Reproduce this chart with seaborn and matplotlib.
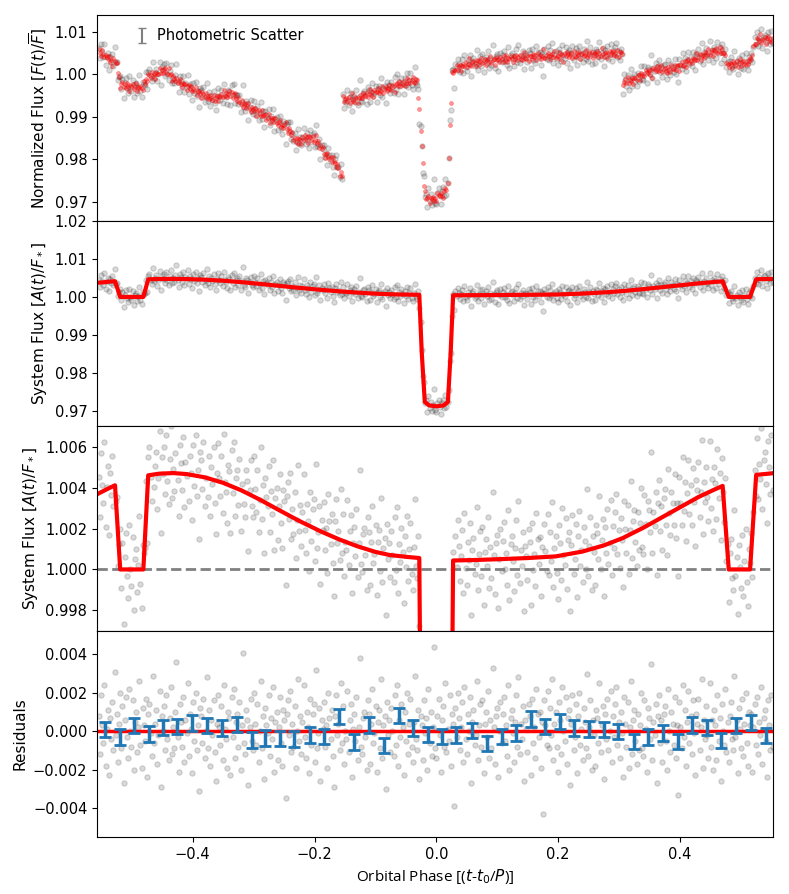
#!/usr/bin/env python3

import numpy as np
from matplotlib import pyplot as plt
import seaborn as sns

model_phase = [-0.555, -0.540, -0.5275, -0.519, -0.481, -0.473, -0.455, -0.432,
               -0.410, -0.380, -0.350, -0.320, -0.290, -0.260, -0.225, -0.190,
               -0.160, -0.130, -0.100, -0.077, -0.050, -0.028, -0.024, -0.019,
               -0.012, 0.000, 0.012, 0.019, 0.0235, 0.0275, 0.060, 0.100,
               0.150, 0.196, 0.240, 0.275, 0.306, 0.340, 0.370, 0.400,
               0.430, 0.455, 0.470, 0.480, 0.515, 0.525, 0.555]
model_flux = [1.00372, 1.00395, 1.00413, 1.00000, 1.00000, 1.00462, 1.00470, 1.00473,
              1.00468, 1.00452, 1.00425, 1.00388, 1.00343, 1.00294, 1.00238, 1.00187,
              1.00148, 1.00114, 1.00086, 1.00071, 1.00062, 1.00056, 0.98550, 0.97250,
              0.97160, 0.97135, 0.97160, 0.97250, 0.98550, 1.00044, 1.00046, 1.00050,
              1.00056, 1.00064, 1.00088, 1.00118, 1.00154, 1.00205, 1.00255, 1.00305,
              1.00355, 1.00390, 1.00410, 1.00000, 1.00000, 1.00464, 1.00473]

raw_phase = [-0.555, -0.545, -0.536, -0.526, -0.519, -0.500, -0.482, -0.474,
             -0.460, -0.449, -0.440, -0.432, -0.410, -0.388, -0.367, -0.350,
             -0.334, -0.323, -0.305, -0.290, -0.262, -0.241, -0.230, -0.213,
             -0.197, -0.181, -0.164, -0.1552, -0.1545, -0.135, -0.115, -0.090,
             -0.061, -0.045, -0.031, -0.019, -0.005, 0.012, 0.018, 0.026,
             0.040, 0.059, 0.100, 0.141, 0.180, 0.223, 0.260, 0.3048,
             0.3055, 0.320, 0.340, 0.361, 0.382, 0.400, 0.415, 0.442,
             0.469, 0.478, 0.500, 0.515, 0.524, 0.555]
raw_flux = [1.0055, 1.0045, 1.0034, 1.0030, 0.9975, 0.9970, 0.9968, 0.9995,
            1.0000, 1.0010, 1.0005, 0.9990, 0.9972, 0.9955, 0.9942, 0.9950,
            0.9955, 0.9935, 0.9920, 0.9908, 0.9888, 0.9868, 0.9840, 0.9852,
            0.9845, 0.9810, 0.9790, 0.9755, 0.9940, 0.9940, 0.9952, 0.9962,
            0.9975, 0.9983, 0.9985, 0.9712, 0.9705, 0.9722, 0.9730, 1.0008,
            1.0018, 1.0026, 1.0034, 1.0040, 1.0043, 1.0045, 1.0047, 1.0049,
            0.9980, 0.9985, 1.0000, 1.0012, 1.0010, 1.0020, 1.0030, 1.0048,
            1.0057, 1.0023, 1.0025, 1.0030, 1.0080, 1.0082]

# Residuals of the individual exposures [ppt], estimated from panel 4.
resid_ppt = [
    0.8, -1.2, 1.9, 0.3, -0.6, 2.4, -1.8, 0.1, 1.1, -2.3, 0.7, -0.4, 1.5, -1.0, 3.1, -0.2, 0.9, -1.6, 0.4, 2.0,
    -0.9, 1.3, -2.7, 0.6, 1.8, -0.3, -1.4, 2.2, 0.0, -0.8, 1.6, -2.0, 0.5, 1.0, -1.1, 0.2, 2.6, -0.7, -1.9, 1.2,
    0.3, -0.5, 1.7, -2.4, 0.9, 1.4, -0.1, -1.3, 2.9, -0.6, 0.4, 1.1, -1.7, -0.2, 2.1, -2.9, 0.8, 0.0, 1.3, -1.0,
    1.9, -0.4, -1.5, 0.7, 2.3, -1.2, 0.2, -0.9, 1.0, 3.6, -0.3, -2.1, 1.4, 0.5, -0.8, 1.8, -1.6, 0.6, -0.1, 2.5,
    -1.3, 0.9, 0.1, -2.2, 1.5, -0.5, 2.0, -1.0, 0.3, -3.1, 1.2, 0.8, -0.6, 1.7, -1.4, 0.0, 2.8, -0.9, 1.1, -1.8,
    0.6, -0.2, 1.6, -1.1, -2.6, 0.4, 1.9, 0.2, -0.7, 1.3, -1.5, 2.4, 0.1, -0.4, -1.9, 1.0, 0.7, -2.3, 1.8, -0.3,
    2.2, -1.4, 0.5, 0.9, -0.8, 1.5, -2.0, 0.3, 4.1, -0.6, -1.2, 1.1, 0.6, -2.8, 0.2, 1.7, -0.5, -1.0, 2.0, 0.4,
    -0.7, 1.4, -1.6, 0.0, 2.6, -0.9, 0.8, -2.5, 1.2, 0.3, -0.1, 1.9, -1.3, 0.7, -0.4, 2.3, -2.1, 0.5, 1.0, -1.5,
    0.2, 1.8, -0.6, -1.8, 1.1, 0.6, -3.5, 0.9, 1.6, -0.2, 2.1, -1.1, 0.4, -0.8, 1.3, -1.9, 0.0, 2.7, -0.5, 0.8,
    -1.2, 0.5, 2.4, -0.3, -1.4, 1.0, 0.2, -2.2, 1.7, -0.7, 0.9, 1.4, -1.6, 3.2, -0.9, -0.1, 1.2, -2.6, 0.6, 0.1,
    1.5, -0.8, 0.3, -1.9, 2.0, 0.7, -0.4, 1.1, -1.3, -2.9, 0.8, 1.9, -0.2, 0.4, -1.0, 2.5, -0.6, 1.3, -1.7, 0.0,
    -0.4, 2.1, -1.1, 0.6, 1.4, -2.4, 0.1, 0.9, -0.5, 1.8, -1.5, 0.2, 3.8, -0.8, -1.2, 0.7, 1.0, -0.3, -2.0, 1.6,
    0.9, -1.7, 0.4, 2.2, -0.6, -0.1, 1.3, -2.1, 0.5, 1.1, -0.9, 2.7, -1.4, 0.3, 0.8, -3.0, 1.5, -0.2, 0.6, -1.1,
    1.2, 0.0, -1.3, 1.9, -0.7, 2.4, -1.8, 0.6, -0.3, 1.4, 0.2, -2.3, 1.0, -0.5, 2.0, -1.2, 0.4, 1.7, -0.8, -1.6,
    0.5, 2.9, -0.4, -1.0, 1.1, -2.5, 0.8, 0.3, -1.5, 1.6, -0.1, 0.7, -2.0, 2.2, -0.6, 1.0, -1.3, 0.2, 4.4, -0.9,
    -1.4, 0.8, 1.7, -0.2, -2.1, 0.6, 1.3, -0.8, 2.5, -1.1, 0.1, -0.5, 1.9, -1.8, 0.9, 0.4, -3.9, 1.2, -0.3, 2.0,
    0.7, -1.0, 0.2, 1.5, -1.6, 2.3, -0.4, -1.2, 0.9, 0.0, 1.8, -2.7, 0.5, 1.1, -0.7, -0.2, 2.6, -1.5, 0.3, 1.4,
    -0.8, 1.6, -2.2, 0.4, 1.0, -0.3, 2.1, -1.4, 0.6, -0.9, 3.3, 0.2, -1.7, 0.8, 1.2, -2.4, 0.0, 1.5, -0.6, 0.9,
    1.8, -0.5, 0.3, -1.3, 2.4, -2.0, 0.7, 1.1, -0.1, -1.6, 0.5, 1.9, -0.8, 2.8, -1.2, 0.4, -0.4, 1.3, -2.6, 0.6,
    0.1, -1.1, 1.4, 0.8, -2.3, 1.7, -0.6, 0.2, -1.4, 2.2, 0.9, -0.3, 1.0, -1.9, 0.5, -4.3, 1.6, 0.3, -0.7, 2.1,
    -0.9, 1.2, -0.2, 2.7, -1.5, 0.4, 1.0, -0.8, -2.1, 1.5, 0.6, -1.2, 2.3, 0.0, -0.5, 1.8, -1.7, 0.7, 1.1, -2.8,
    0.4, 1.9, -1.0, -0.3, 1.4, -2.2, 0.8, 2.0, -0.7, 0.1, -1.5, 1.2, 0.5, -0.9, 3.0, -1.3, 0.2, 1.6, -2.0, 0.6,
    -0.2, -1.8, 1.1, 0.7, -0.6, 2.5, -1.1, 0.3, 1.3, -2.5, 0.9, -0.4, 1.7, -1.0, 0.0, 2.1, -1.6, 0.8, -0.3, 1.4,
    2.3, -0.7, 0.5, -1.4, 1.0, -0.1, -2.4, 1.8, 0.4, -0.8, 1.5, -1.9, 0.2, 2.6, -1.2, 0.6, 1.1, -0.5, -1.7, 0.9,
    -1.0, 0.3, 2.0, -0.9, -1.3, 1.6, 0.1, -2.1, 1.2, 0.7, -0.4, 3.5, -1.5, 0.5, -0.2, 1.4, -2.7, 0.8, 1.9, -0.6,
    0.6, -1.6, 0.9, 1.3, -0.5, -2.0, 2.2, 0.0, -1.1, 1.0, 0.4, -0.7, 1.8, -1.4, 0.3, -3.3, 1.5, 0.2, -0.9, 2.4,
    -0.3, 1.1, -1.8, 0.5, 2.1, -0.6, 0.8, -1.2, 1.6, -0.1, -2.3, 0.9, 0.4, 1.7, -1.0, 0.2, 2.7, -1.9, 0.6, -0.4,
    1.3, -0.2, -1.4, 2.5, -0.8, 0.6, -2.0, 1.1, 0.3, -1.5, 1.9, -0.5, 0.7, -2.6, 1.4, 0.0, -0.7, 2.2, -1.1, 0.5,
    -1.6, 0.8, 1.5, -0.4, -1.0, 2.9, -0.3, 0.6, -2.2, 1.2, 0.1, -0.9, 1.7, -1.3, 0.4, 2.0, -0.6, -1.8, 1.0, 0.3,
    0.9, -2.1, 0.2, 1.4, -0.7, 1.8, -1.2, 0.5, -0.2, 2.3, -1.7, 0.7, 1.1, -0.5, -2.4, 1.6, 0.3, -1.0, 1.9, -0.8,
]

# Binned residuals (blue error bars in panel 4).
bin_phase = [-0.544, -0.519, -0.496, -0.472, -0.448, -0.425, -0.401, -0.376,
             -0.352, -0.328, -0.303, -0.281, -0.257, -0.233, -0.208, -0.185,
             -0.160, -0.135, -0.111, -0.086, -0.062, -0.038, -0.013, 0.010,
             0.033, 0.058, 0.083, 0.107, 0.131, 0.155, 0.178, 0.203,
             0.226, 0.251, 0.275, 0.298, 0.325, 0.348, 0.372, 0.396,
             0.420, 0.444, 0.467, 0.492, 0.516, 0.541]
bin_resid = [0.00010, -0.00030, 0.00030, -0.00014, 0.00020, 0.00026, 0.00043, 0.00030,
             0.00016, 0.00035, -0.00045, -0.00035, -0.00037, -0.00040, -0.00020, -0.00026,
             0.00077, -0.00057, 0.00033, -0.00075, 0.00082, 0.00016, -0.00016, -0.00028,
             -0.00020, 0.00003, -0.00063, -0.00028, -0.00010, 0.00064, 0.00024, 0.00052,
             0.00016, 0.00012, 0.00010, 0.00000, -0.00054, -0.00030, -0.00009, -0.00054,
             0.00033, 0.00020, -0.00049, 0.00030, 0.00047, -0.00023]
bin_err = 0.0004
phot_scatter = 0.0015

xlim = (-0.557, 0.553)

plt.rcParams['font.family'] = ['DejaVu Sans']
plt.rcParams['font.size'] = 11
plt.rcParams['xtick.labelsize'] = 10.5
plt.rcParams['ytick.labelsize'] = 10.5

resid = np.array(resid_ppt) * 1e-3
phase = np.linspace(-0.554, 0.552, len(resid))
model_at_data = np.interp(phase, model_phase, model_flux)
system_flux = model_at_data + resid
raw_trend = np.interp(phase, raw_phase, raw_flux)
raw_model = raw_trend + 0.4 * np.roll(resid, 97)
raw_data = raw_trend + 1.1 * resid

fig, axes = plt.subplots(4, 1, figsize=(7.89, 8.94), dpi=100, sharex=True)
fig.subplots_adjust(left=0.123, right=0.980, top=0.983, bottom=0.064, hspace=0)

pts = dict(color="k", alpha=0.15, s=15, edgecolor="k", linewidth=0.8)

# Panel 1: raw photometry
ax = axes[0]
sns.scatterplot(x=phase, y=raw_data, ax=ax, **pts)
sns.scatterplot(x=phase, y=raw_model, ax=ax, color="red", alpha=0.4, s=8,
                edgecolor="red", linewidth=0.5)
ax.errorbar([5.0], [1.0], yerr=[phot_scatter], fmt="none", ecolor="gray",
            capsize=3, label="Photometric Scatter")
ax.legend(loc="upper left", bbox_to_anchor=(0.037, 1.0), frameon=False,
          handlelength=1.0, handletextpad=0.5, fontsize=10.5)
ax.set_ylim(0.9656, 1.0139)
ax.set_yticks([0.97, 0.98, 0.99, 1.00, 1.01])
ax.set_ylabel(r"Normalized Flux [$F(t)/\overline{F}$]")

# Panel 2: system flux
ax = axes[1]
sns.scatterplot(x=phase, y=system_flux, ax=ax, **pts)
sns.lineplot(x=model_phase, y=model_flux, ax=ax, color="red", lw=3,
             estimator=None, sort=False)
ax.set_ylim(0.9662, 1.02)
ax.set_yticks([0.97, 0.98, 0.99, 1.00, 1.01, 1.02])
ax.set_ylabel(r"System Flux [$A(t)/F_*$]")

# Panel 3: zoom on the phase variation
ax = axes[2]
sns.scatterplot(x=phase, y=system_flux, ax=ax, **pts)
ax.axhline(1.0, color="gray", ls="--", lw=2)
sns.lineplot(x=model_phase, y=model_flux, ax=ax, color="red", lw=3,
             estimator=None, sort=False)
ax.set_ylim(0.99696, 1.00704)
ax.set_yticks([0.998, 1.000, 1.002, 1.004, 1.006])
ax.set_ylabel(r"System Flux [$A(t)/F_*$]")

# Panel 4: residuals
ax = axes[3]
sns.scatterplot(x=phase, y=resid, ax=ax, **pts)
ax.axhline(0.0, color="red", lw=2.5)
ax.errorbar(bin_phase, bin_resid, yerr=bin_err, fmt="none", ecolor="#1f77b4",
            elinewidth=2.5, capsize=4, capthick=2, zorder=5)
ax.set_ylim(-0.0055, 0.0052)
ax.set_yticks([-0.004, -0.002, 0.0, 0.002, 0.004])
ax.set_ylabel("Residuals")
ax.set_xlabel(r"Orbital Phase [($t$-$t_0$/$P$)]", family=["Open Sans", "DejaVu Sans"],
              fontsize=11)

for ax in axes:
    ax.set_xlim(*xlim)
for ax in axes[:3]:
    ax.tick_params(axis="x", bottom=False, labelbottom=False)
axes[3].set_xticks([-0.4, -0.2, 0.0, 0.2, 0.4])

fig.savefig("out.png", dpi=100)
